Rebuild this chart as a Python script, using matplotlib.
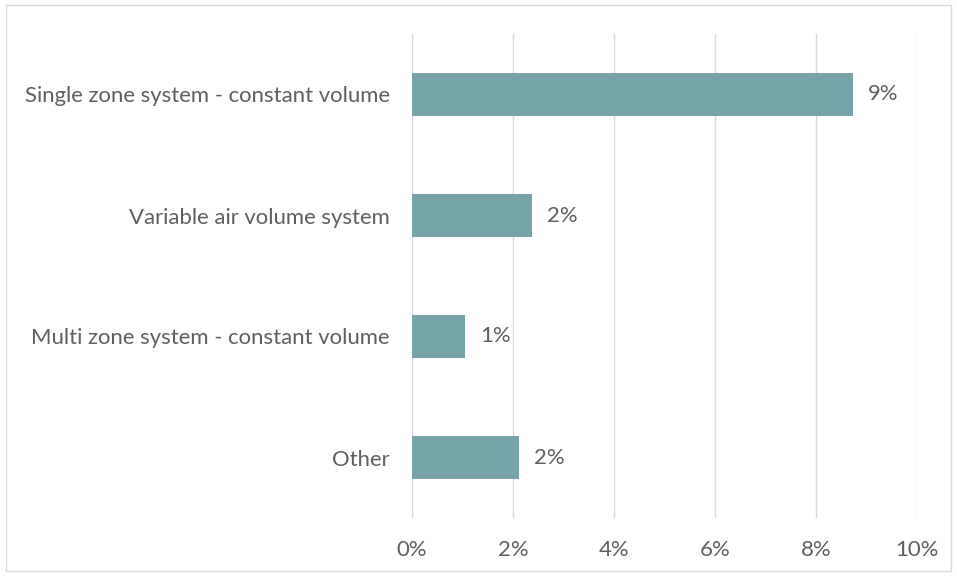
import matplotlib
matplotlib.use("Agg")
import matplotlib.pyplot as plt
from matplotlib.patches import Rectangle
from matplotlib.ticker import FuncFormatter

categories = [
    "Single zone system - constant volume",
    "Variable air volume system",
    "Multi zone system - constant volume",
    "Other",
]
shares = [8.73, 2.38, 1.05, 2.12]
labels = ["9%", "2%", "1%", "2%"]
xticks = [0, 2, 4, 6, 8, 10]

BAR = "#76A3A7"
TEXT = "#5F5F5F"
GRID = "#D9D9D9"
FS = 15.9

plt.rcParams["font.family"] = ["Lato", "DejaVu Sans"]

W, H = 957, 577
fig = plt.figure(figsize=(W / 100, H / 100), dpi=100)
ax = fig.add_axes([412 / W, 1 - 518 / H, (917 - 412) / W, (518 - 34) / H])

y = list(range(len(categories)))
ax.barh(y, shares, height=0.36, color=BAR, zorder=3)
for yi, v, lab in zip(y, shares, labels):
    ax.text(v + 0.3, yi, lab, va="center", ha="left", fontsize=FS, color=TEXT)

ax.set_ylim(len(categories) - 0.5, -0.5)
ax.set_yticks(y)
ax.set_yticklabels(categories, fontsize=FS, color=TEXT)
ax.set_xlim(0, 10)
ax.set_xticks(xticks)
ax.xaxis.set_major_formatter(FuncFormatter(lambda v, p: f"{v:.0f}%"))
ax.tick_params(axis="x", labelsize=FS, labelcolor=TEXT, length=0, pad=16)
ax.tick_params(axis="y", length=0, pad=16)
ax.grid(axis="x", color=GRID, linewidth=1.0, zorder=0)
for s in ax.spines.values():
    s.set_visible(False)

# outer chart border
fig.patches.append(Rectangle((6 / W, 1 - 571 / H), (951 - 6) / W, (571 - 5) / H,
                             transform=fig.transFigure, fill=False,
                             edgecolor=GRID, linewidth=1.0))

fig.savefig("out.png", dpi=100, facecolor="white")
